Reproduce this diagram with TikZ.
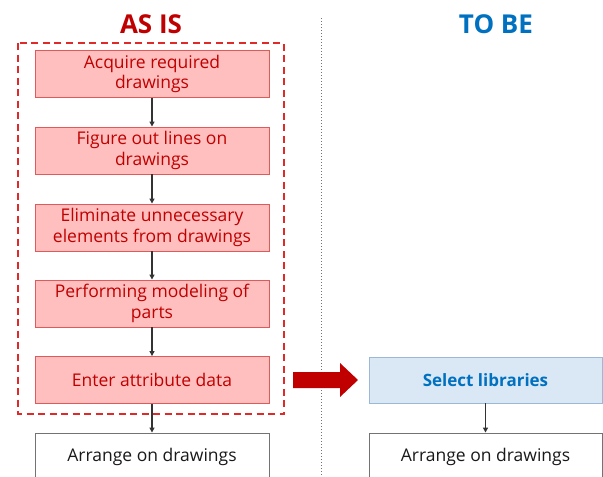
\documentclass[tikz,border=0pt]{standalone}
\usepackage{fontspec}
\setmainfont{Open Sans}
\usetikzlibrary{arrows.meta}
\definecolor{asisred}{HTML}{C00000}
\definecolor{boxred}{HTML}{FFBFBF}
\definecolor{boxredline}{HTML}{E05A5A}
\definecolor{dashred}{HTML}{E02A2A}
\definecolor{tobeblue}{HTML}{0070C0}
\definecolor{boxblue}{HTML}{DAE8F5}
\definecolor{boxblueline}{HTML}{9DB8D6}
\definecolor{linegray}{HTML}{333333}
\tikzset{
  stepbox/.style={draw=boxredline, fill=boxred, line width=0.9pt, text=asisred,
    minimum width=234pt, minimum height=47pt, align=center, inner sep=0pt,
    font=\fontsize{17.5}{20.5}\selectfont},
  plainbox/.style={draw=black!55, fill=white, line width=0.9pt, text=black!90,
    minimum width=234pt, minimum height=48pt, align=center, inner sep=0pt,
    font=\fontsize{17.5}{20.5}\selectfont},
  newbox/.style={draw=boxblueline, fill=boxblue, line width=0.9pt, text=tobeblue,
    minimum width=233pt, minimum height=46pt, align=center, inner sep=0pt,
    font=\bfseries\fontsize{17}{20}\selectfont},
  heading/.style={font=\bfseries\fontsize{26}{28}\selectfont},
  flow/.style={draw=linegray, line width=1.2pt, -{Triangle[length=5pt,width=5pt]}},
}
\begin{document}
\begin{tikzpicture}[x=1pt,y=-1pt]
  \useasboundingbox (0,0) rectangle (603,477);
  \clip (0,0) rectangle (603,477);
  % column divider
  \draw[black!55, line width=1pt, dotted] (321,18) -- (321,480);
  % headings
  \node[heading, text=asisred] (asis) at (151,24) {AS IS};
  \node[heading, text=tobeblue] (tobe) at (496,24) {TO BE};
  % current process
  \node[stepbox] (s1) at (152,74)    {Acquire required\\drawings};
  \node[stepbox] (s2) at (152,150.5) {Figure out lines on\\drawings};
  \node[stepbox] (s3) at (152,227.5) {Eliminate unnecessary\\elements from drawings};
  \node[stepbox] (s4) at (152,303.5) {Performing modeling of\\parts};
  \node[stepbox] (s5) at (152,380)   {Enter attribute data};
  \node[plainbox] (s6) at (152,457)  {Arrange on drawings};
  \draw[flow] (s1) -- (s2);
  \draw[flow] (s2) -- (s3);
  \draw[flow] (s3) -- (s4);
  \draw[flow] (s4) -- (s5);
  \draw[flow] (s5) -- (s6);
  % group of replaced steps
  \draw[dashred, line width=1.8pt, dash pattern=on 7pt off 4.5pt] (18,43) rectangle (284,414);
  % transition arrow
  \coordinate (go) at (293,380);
  \fill[asisred] (go) ++(0,-8) -- ++(47,0) -- ++(0,-9) -- ++(18,17)
                 -- ++(-18,17) -- ++(0,-9) -- ++(-47,0) -- cycle;
  % future process
  \node[newbox] (t1) at (485.5,380) {Select libraries};
  \node[plainbox, minimum width=233pt] (t2) at (485.5,457) {Arrange on drawings};
  \draw[flow] (t1) -- (t2);
\end{tikzpicture}
\end{document}
